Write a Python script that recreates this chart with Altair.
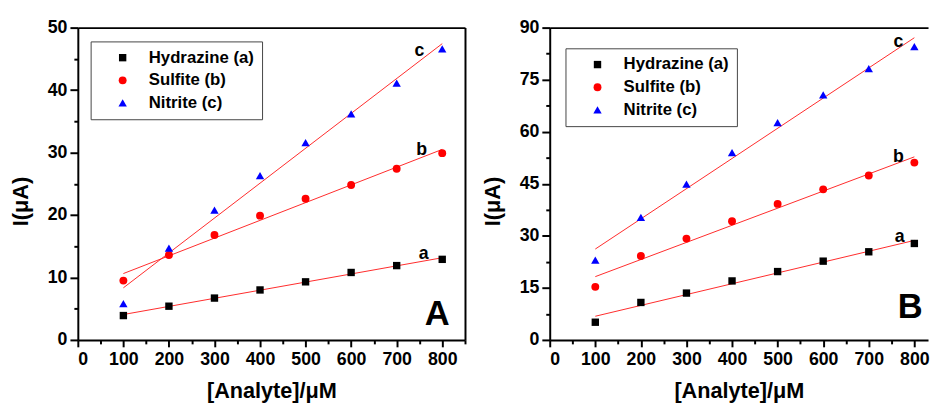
import altair as alt
import pandas as pd

# Analyte concentrations (µM)
conc = [100, 200, 300, 400, 500, 600, 700, 800]
series_names = ["Hydrazine (a)", "Sulfite (b)", "Nitrite (c)"]

# Panel A currents (µA)
a_hydrazine = [3.9, 5.4, 6.7, 8.0, 9.3, 10.8, 11.9, 12.9]
a_sulfite = [9.5, 13.6, 16.8, 19.9, 22.6, 24.8, 27.4, 29.9]
a_nitrite = [5.8, 14.7, 20.8, 26.3, 31.6, 36.2, 41.1, 46.6]

# Panel B currents (µA)
b_hydrazine = [5.1, 10.8, 13.5, 17.0, 19.7, 22.7, 25.4, 27.8]
b_sulfite = [15.3, 24.2, 29.2, 34.2, 39.2, 43.4, 47.4, 51.1]
b_nitrite = [23.0, 35.3, 44.9, 54.0, 62.6, 70.6, 78.2, 84.5]

# Curve tags next to the fitted lines
curve_tags = ["a", "b", "c"]
a_tag_x = [759, 755, 750]
a_tag_y = [13.7, 30.4, 46.2]
b_tag_x = [768, 765, 765]
b_tag_y = [29.7, 52.8, 85.9]

FONT = "Liberation Sans"
marker_colors = ["#000000", "#ff0000", "#0000ff"]
marker_shapes = ["square", "circle", "triangle-up"]
marker_sizes = [56, 72, 100]


def long_table(columns):
    rows = []
    for name, values in zip(series_names, columns):
        for c, v in zip(conc, values):
            rows.append({"conc": c, "current": v, "series": name})
    return pd.DataFrame(rows)


def panel(df, tag_x, tag_y, letter, letter_x, letter_y, xmax, ymax, ystep,
          width, legend_x, legend_y, right_frame):
    xs = alt.Scale(domain=[0, xmax], nice=False, zero=False)
    ys = alt.Scale(domain=[0, ymax], nice=False)
    yvals = [i * ystep / 2 for i in range(int(round(ymax / (ystep / 2))) + 1)]
    xvals = list(range(0, xmax + 1, 50))

    x_axis = alt.Axis(
        orient="bottom", values=xvals,
        labelExpr="datum.value % 100 === 0 ? datum.label : ''",
        tickSize={"condition": {"test": "datum.value % 100 === 0", "value": 7}, "value": 4},
        labelPadding=4, titlePadding=12, title="[Analyte]/μM",
    )
    y_axis = alt.Axis(
        orient="left", values=yvals,
        labelExpr=f"datum.value % {ystep} === 0 ? datum.label : ''",
        tickSize={"condition": {"test": f"datum.value % {ystep} === 0", "value": 8}, "value": 4},
        labelPadding=3, titlePadding=15, title="I(μA)", titleY=176,
    )

    legend = alt.Legend(
        orient="none", legendX=legend_x, legendY=legend_y, title=None,
        labelFont=FONT, labelFontSize=17, labelFontWeight="bold", labelColor="black",
        strokeColor="#444444", fillColor="white", padding=8,
        symbolOffset=16, labelOffset=18, rowPadding=5, symbolStrokeWidth=0,
    )

    points = alt.Chart(df).mark_point(filled=True, opacity=1).encode(
        x=alt.X("conc:Q", scale=xs, axis=x_axis),
        y=alt.Y("current:Q", scale=ys, axis=y_axis),
        color=alt.Color("series:N", scale=alt.Scale(domain=series_names, range=marker_colors), legend=legend),
        shape=alt.Shape("series:N", scale=alt.Scale(domain=series_names, range=marker_shapes)),
        size=alt.Size("series:N", scale=alt.Scale(domain=series_names, range=marker_sizes)),
    )

    # frame edges: top always, right only where the panel is not cut off
    top_axis = alt.Axis(orient="top", labels=False, ticks=False, title=None, domainWidth=2)
    right_axis = alt.Axis(
        orient="right", labels=False, ticks=False, title=None, domainWidth=2,
        domainOpacity=1 if right_frame else 0,
    )

    fits = alt.Chart(df).transform_regression(
        "conc", "current", groupby=["series"]
    ).mark_line(color="#ff2a2a", strokeWidth=1).encode(
        x=alt.X("conc:Q", scale=xs, axis=top_axis),
        y=alt.Y("current:Q", scale=ys, axis=right_axis),
        detail="series:N",
    )

    tags_df = pd.DataFrame({"tag": curve_tags, "x": tag_x, "y": tag_y})
    tags = alt.Chart(tags_df).mark_text(
        font=FONT, fontSize=18, fontWeight="bold", color="black", baseline="middle"
    ).encode(
        x=alt.X("x:Q", scale=xs, axis=None),
        y=alt.Y("y:Q", scale=ys, axis=None),
        text="tag:N",
    )

    letter_df = pd.DataFrame({"t": [letter], "x": [letter_x], "y": [letter_y]})
    big = alt.Chart(letter_df).mark_text(
        font=FONT, fontSize=35, fontWeight="bold", color="black", baseline="alphabetic"
    ).encode(
        x=alt.X("x:Q", scale=xs, axis=None),
        y=alt.Y("y:Q", scale=ys, axis=None),
        text="t:N",
    )

    return alt.layer(fits, points, tags, big).properties(width=width, height=317)


df_a = long_table([a_hydrazine, a_sulfite, a_nitrite])
df_b = long_table([b_hydrazine, b_sulfite, b_nitrite])

panel_a = panel(df_a, a_tag_x, a_tag_y, "A", 789, 2.4, 850, 50, 10, 393, 13, 14, True)
panel_b = panel(df_b, b_tag_x, b_tag_y, "B", 791, 6.2, 830, 90, 15, 384, 16, 21, False)

chart = alt.hconcat(panel_a, panel_b, spacing=15).resolve_scale(
    color="independent", shape="independent", size="independent"
).resolve_legend(
    color="independent", shape="independent", size="independent"
).properties(
    padding={"left": 9, "top": 16, "right": 0, "bottom": 0},
    background="white",
).configure_view(
    strokeOpacity=0
).configure_axis(
    labelFont=FONT, labelFontSize=18, labelFontWeight="bold", labelColor="black",
    titleFont=FONT, titleFontSize=22, titleFontWeight="bold", titleColor="black",
    domainColor="black", domainWidth=2, tickColor="black", tickWidth=2, grid=False,
)

chart.save("out.html", embed_options={"renderer": "svg", "actions": False})
